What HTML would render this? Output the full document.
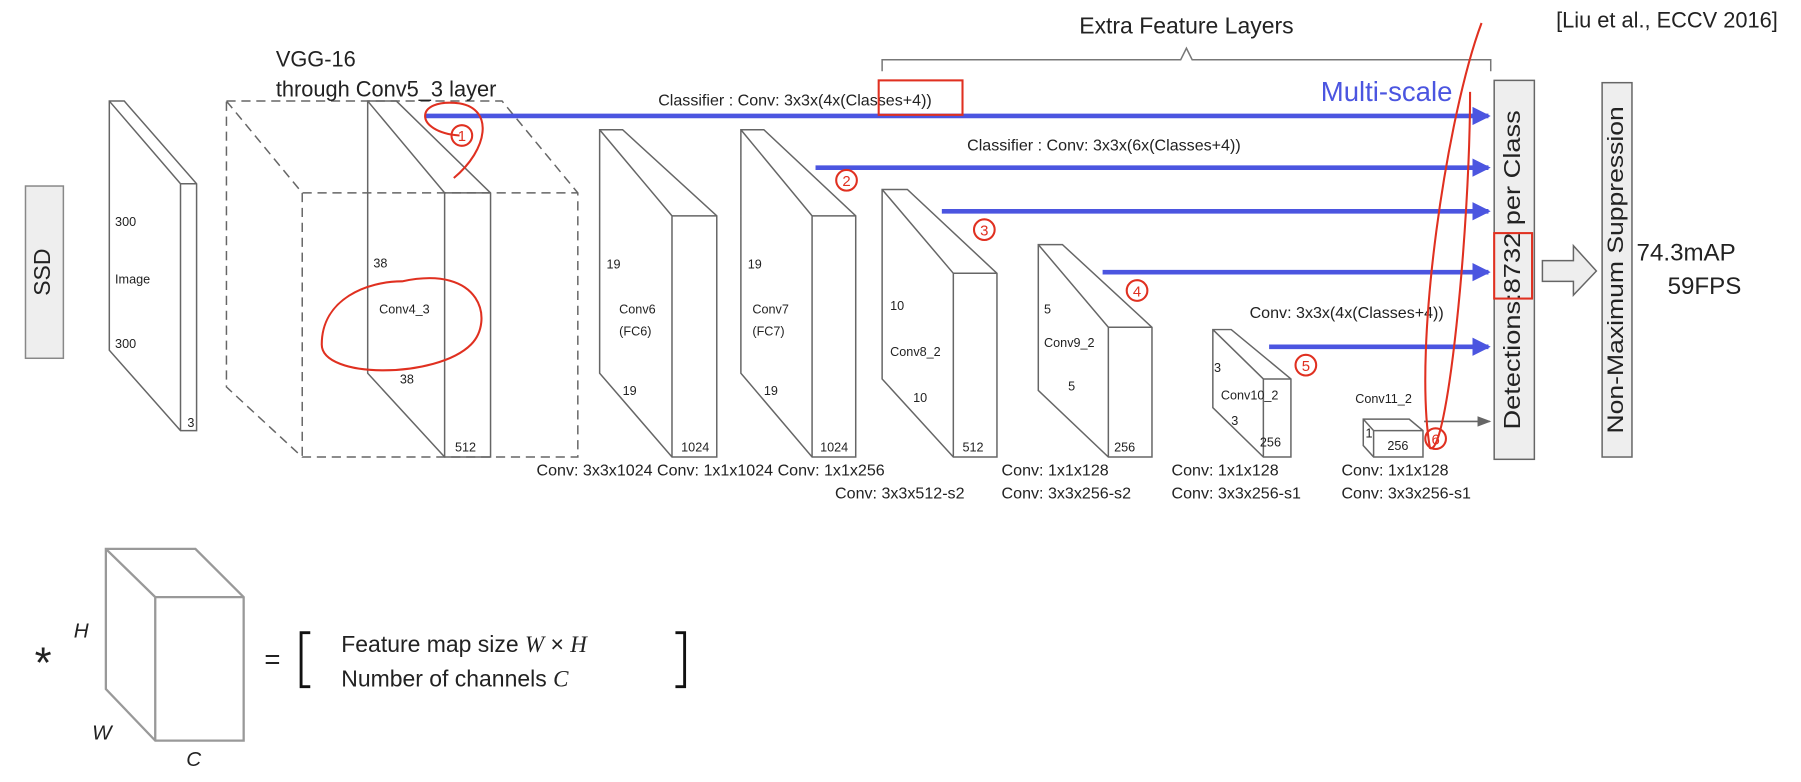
<!DOCTYPE html>
<html><head><meta charset="utf-8"><style>
html,body{margin:0;padding:0;background:#fff;}
svg{display:block;}
text{font-family:"Liberation Sans",sans-serif;fill:#222;}
</style></head><body>
<svg width="1801" height="782" viewBox="0 0 1568 681" xmlns="http://www.w3.org/2000/svg">
<defs>
<marker id="ab" markerWidth="4" markerHeight="4" refX="3.5" refY="2" orient="auto" markerUnits="strokeWidth"><path d="M0,0 L4,2 L0,4 z" fill="#4b55e0"/></marker>
<marker id="ag" markerWidth="8" markerHeight="8" refX="7" refY="4" orient="auto" markerUnits="strokeWidth"><path d="M0,1 L8,4 L0,7 z" fill="#666"/></marker>
</defs>
<g fill="none" stroke="#666" stroke-width="1.3">
<rect x="22" y="162" width="33" height="150" fill="#eee" stroke="#888"/>
<path d="M95,88 L108,88 L171,160 L171,375 L157,375 L95,305 Z M95,88 L157,160 L171,160 M157,160 L157,375"/>
<path stroke-dasharray="8,5" d="M197,88 L437,88 L503,168 L503,398 L263,398 L197,337 Z M197,88 L263,168 L503,168 M263,168 L263,398"/>
<path d="M320,88 L345,88 L427,168 L427,398 L387,398 L320,325 Z M320,88 L387,168 L427,168 M387,168 L387,398"/>
<path d="M522,113 L542,113 L624,188 L624,398 L585,398 L522,325 Z M522,113 L585,188 L624,188 M585,188 L585,398"/>
<path d="M645,113 L665,113 L745,188 L745,398 L707,398 L645,325 Z M645,113 L707,188 L745,188 M707,188 L707,398"/>
<path d="M768,165 L790,165 L868,238 L868,398 L830,398 L768,330 Z M768,165 L830,238 L868,238 M830,238 L830,398"/>
<path d="M904,213 L925,213 L1003,285 L1003,398 L965,398 L904,340 Z M904,213 L965,285 L1003,285 M965,285 L965,398"/>
<path d="M1056,287 L1072,287 L1124,330 L1124,398 L1100,398 L1056,355 Z M1056,287 L1100,330 L1124,330 M1100,330 L1100,398"/>
<path d="M1187,365 L1227,365 L1239,375 L1239,398 L1196,398 L1187,388 Z M1187,365 L1196,375 L1239,375 M1196,375 L1196,398"/>
<rect x="1301" y="70" width="35" height="330" fill="#eee"/>
<rect x="1395" y="72" width="26" height="326" fill="#eee"/>
<path d="M1343,227 L1370,227 L1370,214 L1390,236 L1370,257 L1370,245 L1343,245 Z" fill="#eee"/>
<path d="M768,62 L768,52 L1028,52 L1033,42 L1038,52 L1298,52 L1298,62" stroke="#777"/>
<path stroke="#999" stroke-width="2" d="M92,478 L170,478 L212,520 L212,645 L135,645 L92,600 Z M92,478 L135,520 L212,520 M135,520 L135,645"/>
<path stroke="#111" stroke-width="2.5" d="M270,551 L262,551 L262,598 L270,598 M588,551 L596,551 L596,598 L588,598"/>
</g>
<g stroke="#4b55e0" stroke-width="4" fill="none">
<line x1="370" y1="101" x2="1296" y2="101" marker-end="url(#ab)"/>
<line x1="710" y1="146" x2="1296" y2="146" marker-end="url(#ab)"/>
<line x1="820" y1="184" x2="1296" y2="184" marker-end="url(#ab)"/>
<line x1="960" y1="237" x2="1296" y2="237" marker-end="url(#ab)"/>
<line x1="1105" y1="302" x2="1296" y2="302" marker-end="url(#ab)"/>
</g>
<line x1="1240" y1="367" x2="1297" y2="367" stroke="#666" stroke-width="1.5" marker-end="url(#ag)"/>
<text x="38" y="237" font-size="20" transform="rotate(-90 38 237)" text-anchor="middle" dominant-baseline="middle">SSD</text>
<g font-size="11">
<text x="100" y="197">300</text><text x="100" y="247">Image</text><text x="100" y="303">300</text><text x="163" y="372">3</text>
<text x="325" y="233">38</text><text x="330" y="273">Conv4_3</text><text x="348" y="334">38</text><text x="396" y="393">512</text>
<text x="528" y="234">19</text><text x="539" y="273">Conv6</text><text x="539" y="292">(FC6)</text><text x="542" y="344">19</text><text x="593" y="393">1024</text>
<text x="651" y="234">19</text><text x="655" y="273">Conv7</text><text x="655" y="292">(FC7)</text><text x="665" y="344">19</text><text x="714" y="393">1024</text>
<text x="775" y="270">10</text><text x="775" y="310">Conv8_2</text><text x="795" y="350">10</text><text x="838" y="393">512</text>
<text x="909" y="273">5</text><text x="909" y="302">Conv9_2</text><text x="930" y="340">5</text><text x="970" y="393">256</text>
<text x="1057" y="324">3</text><text x="1063" y="348">Conv10_2</text><text x="1072" y="370">3</text><text x="1097" y="389">256</text>
<text x="1180" y="351">Conv11_2</text><text x="1189" y="381">1</text><text x="1208" y="392">256</text>
</g>
<g font-size="14">
<text x="240" y="58" font-size="19">VGG-16</text>
<text x="240" y="84" font-size="19">through Conv5_3 layer</text>
<text x="573" y="92">Classifier : Conv: 3x3x(4x(Classes+4))</text>
<text x="842" y="131">Classifier : Conv: 3x3x(6x(Classes+4))</text>
<text x="1088" y="277">Conv: 3x3x(4x(Classes+4))</text>
<text x="467" y="414">Conv: 3x3x1024 Conv: 1x1x1024  Conv: 1x1x256</text>
<text x="727" y="434">Conv:  3x3x512-s2</text>
<text x="872" y="414">Conv: 1x1x128</text><text x="872" y="434">Conv: 3x3x256-s2</text>
<text x="1020" y="414">Conv: 1x1x128</text><text x="1020" y="434">Conv: 3x3x256-s1</text>
<text x="1168" y="414">Conv: 1x1x128</text><text x="1168" y="434">Conv: 3x3x256-s1</text>
</g>
<text x="1033" y="29" font-size="20" text-anchor="middle">Extra Feature Layers</text>
<text x="1548" y="24" font-size="19" text-anchor="end">[Liu et al., ECCV 2016]</text>
<text x="1150" y="88" font-size="24" style="fill:#4b55e0">Multi-scale</text>
<text x="1318" y="235" font-size="20" transform="rotate(-90 1318 235)" text-anchor="middle" dominant-baseline="middle" textLength="278" lengthAdjust="spacingAndGlyphs">Detections:8732  per Class</text>
<text x="1408" y="235" font-size="19" transform="rotate(-90 1408 235)" text-anchor="middle" dominant-baseline="middle" textLength="285" lengthAdjust="spacingAndGlyphs">Non-Maximum Suppression</text>
<text x="1425" y="227" font-size="21">74.3mAP</text>
<text x="1452" y="256" font-size="21">59FPS</text>
<g fill="none" stroke="#e03020" stroke-width="1.8">
<rect x="765" y="70" width="73" height="30"/>
<rect x="1301" y="203" width="33" height="57"/>
<path d="M400,118 C360,115 360,85 400,90 C430,95 425,130 395,155"/>
<path d="M350,245 C420,230 430,280 410,300 C380,330 280,330 280,300 C280,260 320,245 350,245 Z"/>
<path d="M1290,20 C1260,100 1230,300 1245,390 C1260,400 1280,200 1280,80"/>
<circle cx="402" cy="118" r="9"/><circle cx="737" cy="157" r="9"/><circle cx="857" cy="200" r="9"/>
<circle cx="990" cy="253" r="9"/><circle cx="1137" cy="318" r="9"/><circle cx="1250" cy="382" r="9"/>
</g>
<g font-size="13" text-anchor="middle">
<text x="402" y="123" style="fill:#e03020">1</text><text x="737" y="162" style="fill:#e03020">2</text><text x="857" y="205" style="fill:#e03020">3</text>
<text x="990" y="258" style="fill:#e03020">4</text><text x="1137" y="323" style="fill:#e03020">5</text><text x="1250" y="387" style="fill:#e03020">6</text>
</g>
<text x="30" y="590" font-size="38">*</text>
<text x="64" y="555" font-size="18" font-style="italic" font-family="Liberation Serif">H</text>
<text x="80" y="644" font-size="18" font-style="italic" font-family="Liberation Serif">W</text>
<text x="162" y="667" font-size="18" font-style="italic" font-family="Liberation Serif">C</text>
<text x="230" y="582" font-size="24">=</text>
<text x="297" y="568" font-size="20">Feature map size <tspan font-family="Liberation Serif" font-style="italic">W</tspan> × <tspan font-family="Liberation Serif" font-style="italic">H</tspan></text>
<text x="297" y="598" font-size="20">Number of channels <tspan font-family="Liberation Serif" font-style="italic">C</tspan></text>
</svg>
</body></html>
